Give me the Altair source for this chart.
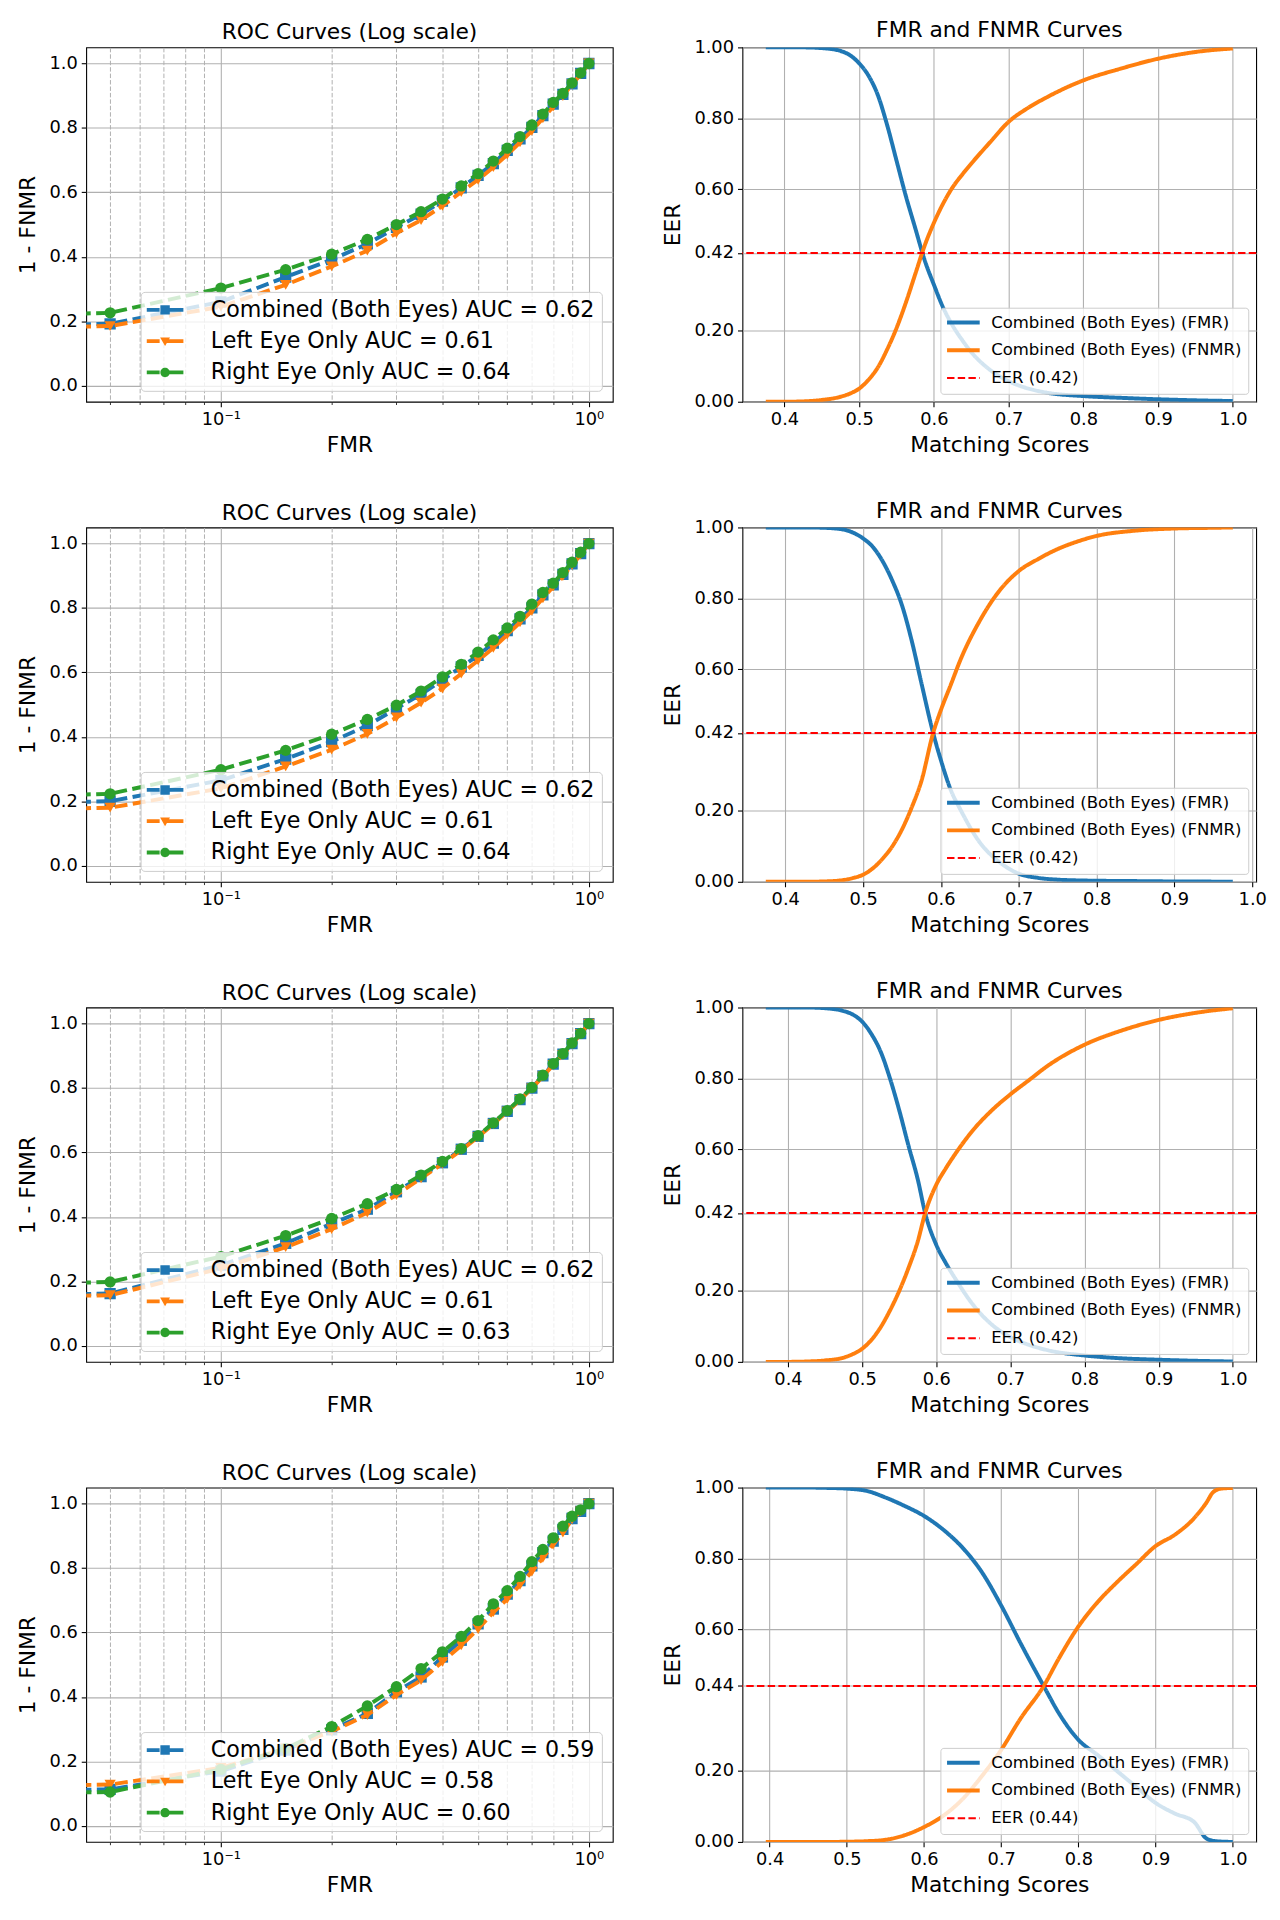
import math
import altair as alt
import pandas as pd

FONT = "DejaVu Sans"
BLUE, ORANGE, GREEN, RED = "#1f77b4", "#ff7f0e", "#2ca02c", "#ff0000"

# ---------------- ROC data (FMR = 0 first point, as in the source) ----------------
roc_fmr = [0.0, 0.05, 0.10, 0.15, 0.20, 0.25, 0.30, 0.35, 0.40, 0.45, 0.50,
           0.55, 0.60, 0.65, 0.70, 0.75, 0.80, 0.85, 0.90, 0.95, 1.0]

roc1_combined = [0, 0.192, 0.260, 0.337, 0.391, 0.440, 0.491, 0.532, 0.573, 0.614, 0.653, 0.689, 0.730, 0.766, 0.802, 0.838, 0.874, 0.904, 0.937, 0.969, 1.0]
roc1_left = [0, 0.185, 0.245, 0.313, 0.370, 0.419, 0.473, 0.514, 0.558, 0.601, 0.639, 0.678, 0.717, 0.755, 0.791, 0.830, 0.866, 0.899, 0.935, 0.966, 1.0]
roc1_right = [0, 0.226, 0.303, 0.360, 0.408, 0.454, 0.500, 0.540, 0.579, 0.620, 0.658, 0.697, 0.737, 0.773, 0.809, 0.843, 0.879, 0.907, 0.940, 0.971, 1.0]

roc2_combined = [0, 0.200, 0.265, 0.331, 0.385, 0.435, 0.488, 0.532, 0.576, 0.617, 0.653, 0.691, 0.730, 0.766, 0.800, 0.841, 0.872, 0.904, 0.937, 0.969, 1.0]
roc2_left = [0, 0.180, 0.240, 0.308, 0.360, 0.409, 0.460, 0.506, 0.550, 0.596, 0.637, 0.676, 0.717, 0.755, 0.791, 0.830, 0.866, 0.899, 0.933, 0.966, 1.0]
roc2_right = [0, 0.223, 0.298, 0.358, 0.408, 0.454, 0.498, 0.542, 0.586, 0.625, 0.663, 0.701, 0.738, 0.774, 0.812, 0.848, 0.877, 0.910, 0.942, 0.973, 1.0]

roc3_combined = [0, 0.162, 0.250, 0.318, 0.379, 0.424, 0.478, 0.525, 0.568, 0.610, 0.650, 0.690, 0.728, 0.764, 0.800, 0.838, 0.874, 0.905, 0.938, 0.969, 1.0]
roc3_left = [0, 0.157, 0.240, 0.306, 0.362, 0.413, 0.468, 0.520, 0.565, 0.607, 0.648, 0.688, 0.727, 0.763, 0.799, 0.836, 0.872, 0.903, 0.936, 0.968, 1.0]
roc3_right = [0, 0.198, 0.277, 0.342, 0.395, 0.441, 0.485, 0.530, 0.572, 0.612, 0.652, 0.692, 0.730, 0.766, 0.802, 0.840, 0.876, 0.907, 0.940, 0.970, 1.0]

roc4_combined = [0, 0.113, 0.170, 0.235, 0.298, 0.349, 0.416, 0.462, 0.524, 0.576, 0.627, 0.673, 0.719, 0.761, 0.807, 0.848, 0.884, 0.920, 0.954, 0.976, 1.0]
roc4_left = [0, 0.128, 0.180, 0.240, 0.293, 0.344, 0.406, 0.452, 0.509, 0.560, 0.611, 0.663, 0.704, 0.748, 0.789, 0.832, 0.874, 0.910, 0.951, 0.976, 1.0]
roc4_right = [0, 0.105, 0.175, 0.240, 0.308, 0.372, 0.432, 0.488, 0.540, 0.588, 0.637, 0.689, 0.730, 0.774, 0.820, 0.858, 0.894, 0.930, 0.961, 0.981, 1.0]

auc_combined = [0.62, 0.62, 0.62, 0.59]
auc_left = [0.61, 0.61, 0.61, 0.58]
auc_right = [0.64, 0.64, 0.63, 0.60]

# ---------------- FMR / FNMR curves ----------------
score1 = [0.375, 0.40, 0.425, 0.45, 0.475, 0.4875, 0.50, 0.5125, 0.525, 0.5375, 0.55, 0.5625, 0.575, 0.5875, 0.60, 0.6125, 0.625, 0.6375, 0.65, 0.675, 0.70, 0.725, 0.75, 0.80, 0.85, 0.90, 0.95, 1.0]
fmr1 = [1.0, 1.0, 1.0, 0.998, 0.99, 0.978, 0.955, 0.92, 0.865, 0.78, 0.68, 0.58, 0.49, 0.40, 0.33, 0.265, 0.215, 0.175, 0.14, 0.09, 0.058, 0.038, 0.026, 0.016, 0.011, 0.007, 0.004, 0.002]
fnmr1 = [0.0, 0.0, 0.001, 0.005, 0.014, 0.023, 0.037, 0.062, 0.097, 0.148, 0.208, 0.28, 0.36, 0.44, 0.505, 0.56, 0.605, 0.64, 0.672, 0.732, 0.79, 0.828, 0.858, 0.907, 0.94, 0.968, 0.987, 0.997]

score2 = [0.375, 0.40, 0.425, 0.45, 0.475, 0.4875, 0.50, 0.5125, 0.525, 0.5375, 0.55, 0.5625, 0.575, 0.59, 0.60, 0.6125, 0.625, 0.65, 0.675, 0.70, 0.725, 0.75, 0.775, 0.80, 0.85, 0.90, 0.95, 0.975]
fmr2 = [1.0, 1.0, 1.0, 0.999, 0.994, 0.985, 0.969, 0.945, 0.905, 0.85, 0.78, 0.68, 0.56, 0.42, 0.343, 0.26, 0.204, 0.111, 0.056, 0.023, 0.011, 0.006, 0.004, 0.003, 0.002, 0.001, 0.0005, 0.0]
fnmr2 = [0.0, 0.0, 0.0, 0.001, 0.005, 0.011, 0.02, 0.038, 0.065, 0.10, 0.148, 0.21, 0.285, 0.42, 0.485, 0.555, 0.626, 0.737, 0.821, 0.877, 0.911, 0.939, 0.96, 0.976, 0.991, 0.997, 0.999, 1.0]

score3 = [0.37, 0.40, 0.425, 0.45, 0.475, 0.4875, 0.50, 0.5125, 0.525, 0.5375, 0.55, 0.5625, 0.575, 0.585, 0.60, 0.6125, 0.625, 0.65, 0.675, 0.70, 0.725, 0.75, 0.80, 0.85, 0.90, 0.95, 1.0]
fmr3 = [1.0, 1.0, 1.0, 0.998, 0.99, 0.98, 0.96, 0.925, 0.875, 0.80, 0.71, 0.61, 0.515, 0.42, 0.33, 0.28, 0.237, 0.16, 0.105, 0.07, 0.048, 0.033, 0.018, 0.01, 0.006, 0.003, 0.001]
fnmr3 = [0.0, 0.0, 0.001, 0.004, 0.012, 0.022, 0.037, 0.062, 0.098, 0.145, 0.20, 0.265, 0.34, 0.42, 0.50, 0.545, 0.585, 0.655, 0.71, 0.755, 0.795, 0.835, 0.895, 0.935, 0.965, 0.985, 0.998]

score4 = [0.395, 0.425, 0.45, 0.475, 0.50, 0.525, 0.55, 0.575, 0.60, 0.625, 0.65, 0.675, 0.70, 0.725, 0.755, 0.775, 0.80, 0.825, 0.85, 0.875, 0.90, 0.925, 0.95, 0.965, 0.975, 0.985, 1.0]
fmr4 = [1.0, 1.0, 1.0, 0.999, 0.997, 0.991, 0.972, 0.948, 0.92, 0.881, 0.83, 0.761, 0.667, 0.561, 0.44, 0.362, 0.288, 0.245, 0.20, 0.155, 0.11, 0.08, 0.056, 0.011, 0.003, 0.001, 0.0]
fnmr4 = [0.0, 0.0, 0.0, 0.0, 0.0005, 0.002, 0.006, 0.019, 0.042, 0.074, 0.121, 0.186, 0.26, 0.348, 0.44, 0.519, 0.608, 0.677, 0.733, 0.784, 0.835, 0.867, 0.914, 0.955, 0.988, 0.997, 0.999]

eer_values = [0.42, 0.42, 0.42, 0.44]

# axis tick values
roc_y_ticks = [0.0, 0.2, 0.4, 0.6, 0.8, 1.0]
log_major = [0.1, 1.0]
log_minor = [0.05, 0.06, 0.07, 0.08, 0.09, 0.2, 0.3, 0.4, 0.5, 0.6, 0.7, 0.8, 0.9]
score_ticks = [0.4, 0.5, 0.6, 0.7, 0.8, 0.9, 1.0]

LEFT_W, RIGHT_W, H = 532, 519, 358
LOGLO = 10 ** (math.log10(0.05) - 0.065)
LOGHI = 10 ** 0.065

DASHES = "M-3.7,-0.38H-1.1V0.38H-3.7ZM-0.2,-0.38H3.7V0.38H-0.2Z"
legend_paths = [
    DASHES + "M-0.95,-0.95H0.95V0.95H-0.95Z",
    DASHES + "M-1.0,-0.75H1.0L0,1.0Z",
    DASHES + "M-0.95,0A0.95,0.95 0 1,1 0.95,0A0.95,0.95 0 1,1 -0.95,0Z",
]


def roc_chart(comb, left, right, k):
    names = [f"Combined (Both Eyes) AUC = {auc_combined[k]:.2f}",
             f"Left Eye Only AUC = {auc_left[k]:.2f}",
             f"Right Eye Only AUC = {auc_right[k]:.2f}"]
    series_vals = [comb, left, right]
    colors = [BLUE, ORANGE, GREEN]
    shapes = ["square", "triangle-down", "circle"]
    cscale = alt.Scale(domain=names, range=colors)
    xscale = alt.Scale(type="log", domain=[LOGLO, LOGHI], nice=False)
    yscale = alt.Scale(domain=[-0.05, 1.05], nice=False, zero=False)
    yaxis = alt.Axis(values=roc_y_ticks, format=".1f", title="1 - FNMR", grid=True, titlePadding=10)
    minor_axis = alt.Axis(orient="bottom", values=log_minor, grid=True, gridDash=[4.5, 2], gridWidth=1.0,
                          labels=False, tickSize=2.8, tickWidth=0.8, title=None)
    major_axis = alt.Axis(orient="bottom", values=log_major, grid=True, title="FMR", titlePadding=6,
                          labelExpr="datum.value < 0.5 ? '10⁻¹' : '10⁰'")
    frames = []
    for name, vals in zip(names, series_vals):
        frames.append(pd.DataFrame({"series": name,
                                    "fmr": [max(f, 1e-9) for f in roc_fmr],
                                    "tpr": vals}))
    layers = []
    for i, df in enumerate(frames):
        xa_line = minor_axis if i == 0 else None
        xa_pt = major_axis if i == 0 else None
        line = alt.Chart(df).mark_line(color=colors[i], strokeDash=[13, 5.5], strokeWidth=4, clip=True).encode(
            x=alt.X("fmr:Q", scale=xscale, axis=xa_line),
            y=alt.Y("tpr:Q", scale=yscale, axis=yaxis),
        )
        pts = alt.Chart(df).mark_point(color=colors[i], shape=shapes[i], filled=True, size=130,
                                       opacity=1, clip=True).encode(
            x=alt.X("fmr:Q", scale=xscale, axis=xa_pt),
            y=alt.Y("tpr:Q", scale=yscale, axis=yaxis),
        )
        layers += [line, pts]
    leg = alt.Legend(title=None, orient="bottom-right", offset=11, padding=7,
                     fillColor="rgba(255,255,255,0.8)", strokeColor="#cccccc", cornerRadius=4,
                     labelFont=FONT, labelFontSize=22.4, labelColor="black", labelLimit=700,
                     labelOffset=35, symbolOffset=6.5, symbolSize=100, symbolStrokeWidth=0,
                     rowPadding=8.6, symbolOpacity=1)
    alldf = pd.concat(frames)
    legend_layer = alt.Chart(alldf).transform_filter("datum.tpr > 5").mark_point(filled=True).encode(
        x=alt.X("fmr:Q", scale=xscale, axis=None),
        y=alt.Y("tpr:Q", scale=yscale, axis=yaxis),
        color=alt.Color("series:N", scale=cscale, legend=leg),
        shape=alt.Shape("series:N", scale=alt.Scale(domain=names, range=legend_paths), legend=leg),
    )
    layers.append(legend_layer)
    return alt.layer(*layers).resolve_axis(x="independent").properties(
        width=LEFT_W, height=H, title=alt.Title("ROC Curves (Log scale)", offset=3))


def rate_chart(scores, fmr, fnmr, k):
    eer = eer_values[k]
    lab_fmr = "Combined (Both Eyes) (FMR)"
    lab_fnmr = "Combined (Both Eyes) (FNMR)"
    lab_eer = f"EER ({eer:.2f})"
    dom = [lab_fmr, lab_fnmr, lab_eer]
    n = len(scores)
    df = pd.DataFrame({"score": list(scores) * 2, "rate": list(fmr) + list(fnmr),
                       "series": [lab_fmr] * n + [lab_fnmr] * n})
    df_eer = pd.DataFrame({"eer": [eer], "series": [lab_eer]})
    lo, hi = min(scores), max(scores)
    m = 0.05 * (hi - lo)
    xscale = alt.Scale(domain=[lo - m, hi + m], nice=False, zero=False)
    yscale = alt.Scale(domain=[0, 1], nice=False)
    yaxis = alt.Axis(values=[0.0, 0.2, eer, 0.6, 0.8, 1.0], format=".2f", title="EER", grid=True, titlePadding=10)
    xaxis = alt.Axis(values=score_ticks, format=".1f", title="Matching Scores", grid=True, titlePadding=6)
    leg = alt.Legend(title=None, orient="bottom-right", offset=8, padding=6.7,
                     fillColor="rgba(255,255,255,0.8)", strokeColor="#cccccc", cornerRadius=3,
                     labelFont=FONT, labelFontSize=16.7, labelColor="black", labelLimit=700,
                     labelOffset=19.7, symbolOffset=8.15, symbolSize=9, symbolType="M-11,0H11",
                     symbolStrokeWidth=4, rowPadding=10.0, symbolOpacity=1)
    color = alt.Color("series:N", scale=alt.Scale(domain=dom, range=[BLUE, ORANGE, RED]), legend=leg)
    dash = alt.StrokeDash("series:N", scale=alt.Scale(domain=dom, range=[[1, 0], [1, 0], [7.5, 3.3]]), legend=leg)
    sw = alt.StrokeWidth("series:N", scale=alt.Scale(type="ordinal", domain=dom, range=[4, 4, 2]), legend=leg)
    lines = alt.Chart(df).mark_line(interpolate="monotone", clip=True).encode(
        x=alt.X("score:Q", scale=xscale, axis=xaxis),
        y=alt.Y("rate:Q", scale=yscale, axis=yaxis),
        color=color, strokeDash=dash, strokeWidth=sw,
    )
    rule = alt.Chart(df_eer).mark_rule().encode(
        y=alt.Y("eer:Q", scale=yscale, axis=yaxis),
        color=color, strokeDash=dash, strokeWidth=sw,
    )
    return alt.layer(lines, rule).properties(
        width=RIGHT_W, height=H, title=alt.Title("FMR and FNMR Curves", offset=-4))


roc_sets = [(roc1_combined, roc1_left, roc1_right), (roc2_combined, roc2_left, roc2_right),
            (roc3_combined, roc3_left, roc3_right), (roc4_combined, roc4_left, roc4_right)]
rate_sets = [(score1, fmr1, fnmr1), (score2, fmr2, fnmr2), (score3, fmr3, fnmr3), (score4, fmr4, fnmr4)]

IND = dict(color="independent", shape="independent", strokeDash="independent", strokeWidth="independent")

rows = []
for k in range(4):
    r = alt.hconcat(roc_chart(*roc_sets[k], k), rate_chart(*rate_sets[k], k), spacing=47)
    r = r.resolve_scale(**IND).resolve_legend(**IND)
    rows.append(r)

chart = alt.vconcat(*rows, spacing=43).resolve_scale(**IND).resolve_legend(**IND)
chart = chart.properties(padding={"left": 7, "top": 1, "right": 5, "bottom": 5}, background="white")
chart = chart.configure_view(stroke="black", strokeWidth=1.1).configure_axis(
    labelFont=FONT, labelFontSize=18, labelColor="black",
    titleFont=FONT, titleFontSize=22, titleFontWeight="normal", titleColor="black",
    tickColor="black", tickWidth=1.1, tickSize=5, labelPadding=4, domain=False,
    gridColor="#b0b0b0", gridWidth=1.1,
).configure_title(font=FONT, fontSize=22, fontWeight="normal", color="black",
                  baseline="alphabetic", anchor="middle")

chart.save("out.html", embed_options={"renderer": "svg", "actions": False})
